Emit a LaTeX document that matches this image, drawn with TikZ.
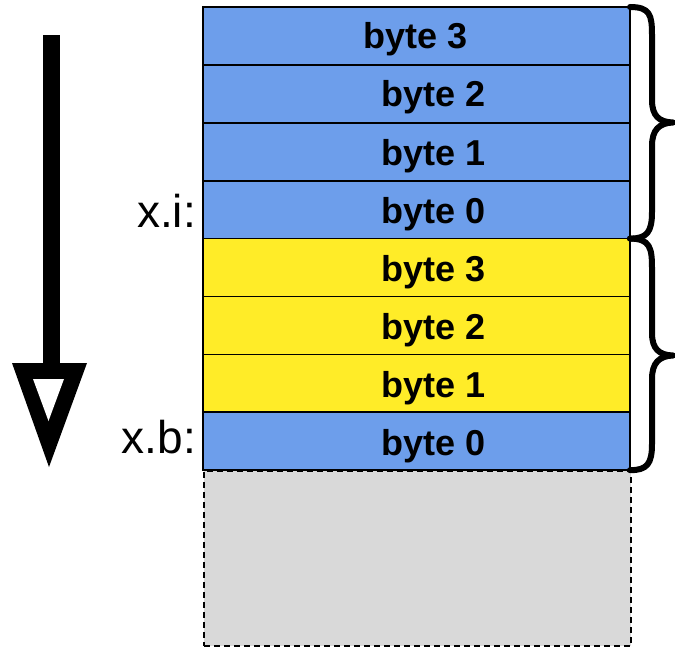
\documentclass[tikz,border=0pt]{standalone}
\usepackage{fontspec}
\setmainfont{Liberation Sans}
\begin{document}
\begin{tikzpicture}[x=1pt,y=-1pt,
  cell/.style={draw=black,line width=1.7pt,minimum width=427pt,minimum height=57.9pt,
    inner sep=0pt,outer sep=0pt,anchor=north west},
  bluecell/.style={cell,fill=cellblue},
  yellowcell/.style={cell,fill=cellyellow},
  bytelbl/.style={anchor=base,inner sep=0pt,font=\bfseries\fontsize{36}{40}\selectfont},
  addrlbl/.style={anchor=base east,inner sep=0pt,font=\fontsize{46}{50}\selectfont},
  brace/.style={line width=6pt,line cap=round,line join=round}]
\definecolor{cellblue}{RGB}{109,158,235}
\definecolor{cellyellow}{RGB}{255,236,40}
\definecolor{cellgray}{RGB}{217,217,217}
\useasboundingbox (0,0) rectangle (675,650);

% unused memory below the stack
\node[draw=black,fill=cellgray,line width=1.8pt,dash pattern=on 6pt off 4pt,
  minimum width=427pt,minimum height=175pt,inner sep=0pt,anchor=north west]
  (free) at (203,470) {};

% the eight bytes, top to bottom
\node[bluecell]   (r1) at (203,7)     {};
\node[bluecell]   (r2) at (203,64.9)  {};
\node[bluecell]   (r3) at (203,122.8) {};
\node[bluecell]   (r4) at (203,180.7) {};
\node[yellowcell] (r5) at (203,238.6) {};
\node[yellowcell] (r6) at (203,296.5) {};
\node[yellowcell] (r7) at (203,354.4) {};
\node[bluecell]   (r8) at (203,412.3) {};

\node[bytelbl] (t1) at (416,49)  {byte 3};
\node[bytelbl] (t2) at (434,107) {byte 2};
\node[bytelbl] (t3) at (434,165) {byte 1};
\node[bytelbl] (t4) at (434,223) {byte 0};
\node[bytelbl] (t5) at (434,281) {byte 3};
\node[bytelbl] (t6) at (434,339) {byte 2};
\node[bytelbl] (t7) at (434,397) {byte 1};
\node[bytelbl] (t8) at (434,455) {byte 0};

% address labels
\node[addrlbl] (xi) at (196,227) {x.i:};
\node[addrlbl] (xb) at (196,453) {x.b:};

% braces on the right
\coordinate (b1top) at (r1.north east);
\coordinate (b1bot) at (r4.south east);
\coordinate (b2top) at (r5.north east);
\coordinate (b2bot) at (r8.south east);
\draw[brace] (b1top) .. controls ++(20,0) and (652,15) .. (652,35)
  -- (652,100) .. controls (652,116) and (659,122) .. (673,122.5)
  .. controls (659,123) and (652,130) .. (652,146)
  -- (652,212) .. controls (652,232) and (647,238.6) .. (b1bot);
\draw[brace] (b2top) .. controls ++(20,0) and (652,248) .. (652,268)
  -- (652,333) .. controls (652,349) and (659,355) .. (673,355.5)
  .. controls (659,356) and (652,363) .. (652,379)
  -- (652,444) .. controls (652,464) and (647,470.2) .. (b2bot);

% reading direction arrow
\fill[black] (43,35) rectangle (60,365);
\fill[black] (12,363) -- (87,363) -- (49,467) -- cycle;
\fill[white] (33,379) -- (64,379) -- (48.5,421) -- cycle;
\end{tikzpicture}
\end{document}
